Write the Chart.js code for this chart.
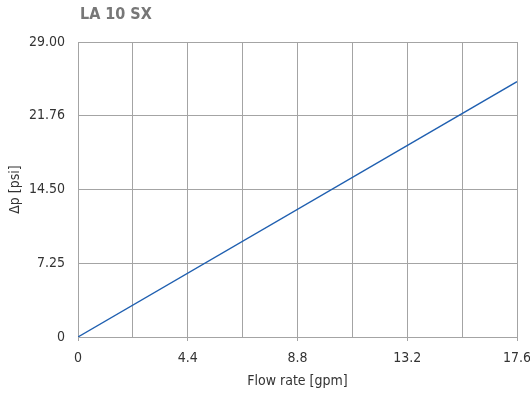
<!DOCTYPE html>
<html>
<head>
<meta charset="utf-8">
<script src="https://cdn.jsdelivr.net/npm/chart.js@4/dist/chart.umd.min.js"></script>
<style>
  body { margin: 0; background: #fff; }
  #wrap { width: 530px; height: 394px; }
</style>
</head>
<body>
<div id="wrap"><canvas id="grafico" width="530" height="394"></canvas></div>
<script>
const chartTitle = 'LA 10 SX';
const flowRate = [0, 17.6];
const pressureDrop = [0, 25.1];
const xTickLabels = ['0', '', '4.4', '', '8.8', '', '13.2', '', '17.6'];
const yTickLabels = ['0', '7.25', '14.50', '21.76', '29.00'];

const fontFamily = '"Liberation Sans Narrow", "DejaVu Sans Condensed", "Roboto", sans-serif';

// evenly spaced ticks over 0..max
function stepTicks(max, n) {
    return function (scale) {
        scale.ticks = [];
        for (let i = 0; i <= n; i++) scale.ticks.push({ value: max * i / n });
    };
}

const titlePlugin = {
    id: 'topTitle',
    afterDraw(chart) {
        const c = chart.ctx;
        c.save();
        c.font = 'bold 16px ' + fontFamily;
        c.fillStyle = '#777777';
        c.textBaseline = 'middle';
        c.fillText(chartTitle, chart.chartArea.left + 2, 15);
        c.restore();
    }
};

const ctx = document.getElementById('grafico').getContext('2d');

new Chart(ctx, {
    type: 'line',
    data: {
        datasets: [{
            data: flowRate.map((x, i) => ({ x: x, y: pressureDrop[i] })),
            borderColor: '#1f5fb0',
            borderWidth: 1.3,
            pointRadius: 0,
            tension: 0
        }]
    },
    options: {
        responsive: false,
        animation: false,
        layout: { padding: { top: 42, right: 0, left: 0, bottom: 0 } },
        plugins: { legend: { display: false }, tooltip: { enabled: false } },
        scales: {
            x: {
                type: 'linear',
                min: 0,
                max: 17.6,
                afterBuildTicks: stepTicks(17.6, 8),
                // last label runs past the canvas edge like in the original
                afterFit: s => { s.paddingRight = 13; s.paddingLeft = 0; s.height = 57; },
                grid: {
                    color: '#a4a4a4',
                    lineWidth: 1,
                    tickLength: 4,
                    tickColor: c => (c.index % 2 === 0 ? '#a4a4a4' : 'rgba(0,0,0,0)')
                },
                border: { color: '#a4a4a4' },
                ticks: {
                    autoSkip: false,
                    maxRotation: 0,
                    padding: 9,
                    color: '#333',
                    font: { family: fontFamily, size: 14 },
                    callback: (v, i) => xTickLabels[i]
                },
                title: {
                    display: true,
                    text: 'Flow rate [gpm]',
                    color: '#333',
                    font: { family: fontFamily, size: 14 },
                    padding: { top: 0, bottom: 4 }
                }
            },
            y: {
                type: 'linear',
                min: 0,
                max: 29,
                afterBuildTicks: stepTicks(29, 4),
                afterFit: s => { s.width = 78; },
                grid: {
                    color: '#a4a4a4',
                    lineWidth: 1,
                    drawTicks: false
                },
                border: { color: '#a4a4a4' },
                ticks: {
                    autoSkip: false,
                    padding: 13,
                    color: '#333',
                    font: { family: fontFamily, size: 14 },
                    callback: (v, i) => yTickLabels[i]
                },
                title: {
                    display: true,
                    text: 'Δp [psi]',
                    color: '#333',
                    font: { family: fontFamily, size: 14 },
                    padding: { top: 7, bottom: 0 }
                }
            }
        }
    },
    plugins: [titlePlugin]
});
</script>
</body>
</html>
